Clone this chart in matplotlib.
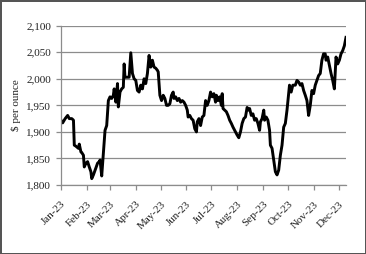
import matplotlib
matplotlib.use("Agg")
import matplotlib.pyplot as plt
import matplotlib.dates as mdates
from matplotlib.ticker import FuncFormatter
import pandas as pd

# day of year (0 = 1 Jan 2023) and gold price
day = [0, 2, 5, 8, 10, 13, 15, 16, 18, 21, 22, 24, 25, 27, 28, 30, 32, 34, 36, 37,
       39, 41, 44, 46, 47, 49, 51, 53, 55, 57, 59, 61, 63, 64, 66, 68, 69, 71, 73, 75,
       76, 77, 79, 82, 84, 86, 88, 90, 92, 94, 96, 98, 100, 102, 104, 106, 108, 110, 112, 114,
       116, 117, 119, 121, 123, 125, 127, 129, 131, 133, 135, 136, 138, 140, 142, 144, 146, 148, 150, 152,
       153, 155, 157, 159, 161, 163, 164, 166, 168, 170, 172, 174, 176, 178, 180, 182, 184, 186, 187, 189,
       191, 193, 194, 195, 197, 199, 201, 203, 205, 207, 210, 212, 214, 216, 218, 220, 222, 224, 226, 227,
       229, 231, 233, 235, 237, 239, 240, 242, 244, 245, 247, 249, 251, 252, 254, 256, 258, 260, 262, 264,
       266, 268, 270, 272, 274, 275, 277, 279, 282, 284, 286, 288, 290, 292, 294, 296, 298, 300, 302, 304,
       306, 308, 310, 312, 314, 316, 318, 319, 321, 323, 325, 327, 329, 330, 331, 333, 335, 337, 339, 341,
       343]
price = [1922, 1917, 1925, 1931, 1925, 1925, 1922, 1875, 1873, 1869, 1877, 1862, 1861, 1856, 1834, 1841, 1844, 1834, 1825, 1812,
         1819, 1828, 1841, 1844, 1847, 1817, 1859, 1903, 1912, 1959, 1966, 1963, 1969, 1981, 1956, 1991, 1947, 1975, 1981, 1984,
         2028, 2003, 2003, 2003, 2049, 2010, 2000, 1997, 1978, 1975, 1988, 1981, 2000, 1991, 2010, 2044, 2022, 2035, 2022, 2020,
         2016, 2013, 1969, 1959, 1969, 1963, 1950, 1950, 1953, 1969, 1975, 1963, 1966, 1959, 1963, 1956, 1959, 1956, 1950, 1941,
         1928, 1931, 1925, 1922, 1906, 1900, 1919, 1925, 1912, 1928, 1931, 1959, 1950, 1959, 1975, 1966, 1972, 1956, 1969, 1959,
         1966, 1950, 1972, 1944, 1941, 1938, 1931, 1922, 1916, 1909, 1900, 1894, 1889, 1900, 1916, 1925, 1928, 1946, 1941, 1944,
         1931, 1934, 1922, 1925, 1916, 1903, 1919, 1925, 1941, 1922, 1928, 1922, 1903, 1875, 1869, 1847, 1825, 1819, 1828, 1856,
         1875, 1909, 1916, 1941, 1972, 1988, 1975, 1988, 1988, 1997, 1994, 1988, 1991, 1978, 1969, 1959, 1931, 1950, 1978, 1972,
         1988, 1997, 2006, 2010, 2035, 2047, 2047, 2035, 2041, 2025, 2010, 1997, 1981, 2010, 2041, 2028, 2035, 2047, 2053, 2062,
         2078]

yticks = [1800, 1850, 1900, 1950, 2000, 2050, 2100]

dates = pd.Timestamp("2023-01-01") + pd.to_timedelta(day, unit="D")

plt.rcParams["font.family"] = ["Liberation Serif", "DejaVu Serif"]

fig = plt.figure(figsize=(3.66, 2.54), dpi=100)
fig.patch.set_edgecolor("#555555")
fig.patch.set_linewidth(2)
ax = fig.add_axes([61/366, 1 - 185/254, 285/366, (185 - 25.7)/254])

ax.plot(dates, price, color="black", lw=2.1, solid_joinstyle="round")

ax.set_ylim(1800, 2100)
ax.set_yticks(yticks)
ax.yaxis.set_major_formatter(FuncFormatter(lambda v, p: f"{v:,.0f}"))
ax.set_xlim(dates[0], dates[-1])
ax.xaxis.set_major_locator(mdates.MonthLocator())
ax.xaxis.set_major_formatter(mdates.DateFormatter("%b-%y"))
plt.setp(ax.get_xticklabels(), rotation=45, ha="right", rotation_mode="anchor")

ax.grid(axis="y", color="#8c8c8c", lw=0.9)
ax.set_axisbelow(True)
for s in ["top", "right"]:
    ax.spines[s].set_visible(False)
for s in ["left", "bottom"]:
    ax.spines[s].set_color("#8c8c8c")
    ax.spines[s].set_linewidth(0.9)
ax.tick_params(colors="#8c8c8c", labelcolor="#222222", labelsize=8, length=3.5, width=0.9)
ax.tick_params(axis="x", pad=7)
ax.set_ylabel("$ per ounce", fontsize=8, color="#222222", labelpad=4)

fig.savefig("out.png", dpi=100, edgecolor=fig.get_edgecolor())
